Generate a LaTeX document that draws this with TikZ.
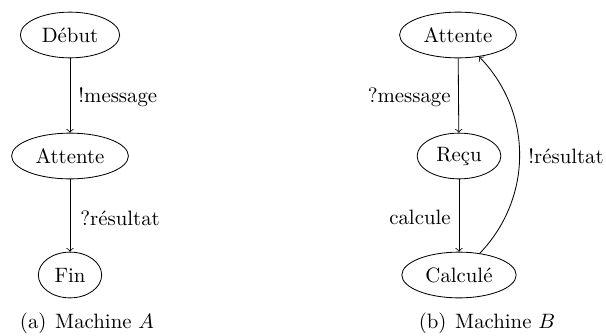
\documentclass[tikz,border=0pt]{standalone}
\usetikzlibrary{shapes.geometric}
\begin{document}
\begin{tikzpicture}[x=0.4808pt,y=-0.4808pt,
  state/.style={draw,ellipse,minimum height=22pt,inner sep=3.33pt},
  lbl/.style={inner sep=0pt},
  arr/.style={->,line width=0.4pt}]
\useasboundingbox (0,0) rectangle (606,335);
% Machine A
\node[state] (debut) at (70,35) {Début};
\node[state] (attA) at (70,156) {Attente};
\node[state] (fin) at (70,275) {Fin};
\draw[arr] (debut) -- (attA);
\draw[arr] (attA) -- (fin);
\node[lbl,anchor=west] (l1) at (78,97) {!message};
\node[lbl,anchor=west] (l2) at (80,218) {?résultat};
\node[lbl,anchor=base] (capA) at (87,328) {(a)\hskip 4.2pt Machine $A$};
% Machine B
\node[state] (attB) at (458,35) {Attente};
\node[state] (recu) at (459,156) {Reçu};
\node[state] (calc) at (459,275) {Calculé};
\draw[arr] (attB) -- (recu);
\draw[arr] (recu) -- (calc);
\draw[arr] (calc) to[bend right=44] (attB);
\node[lbl,anchor=east] (l3) at (451,97) {?message};
\node[lbl,anchor=east] (l4) at (451,217) {calcule};
\node[lbl,anchor=west] (l5) at (528,156) {!résultat};
\node[lbl,anchor=base] (capB) at (487,328) {(b)\hskip 4.2pt Machine $B$};
\end{tikzpicture}
\end{document}
